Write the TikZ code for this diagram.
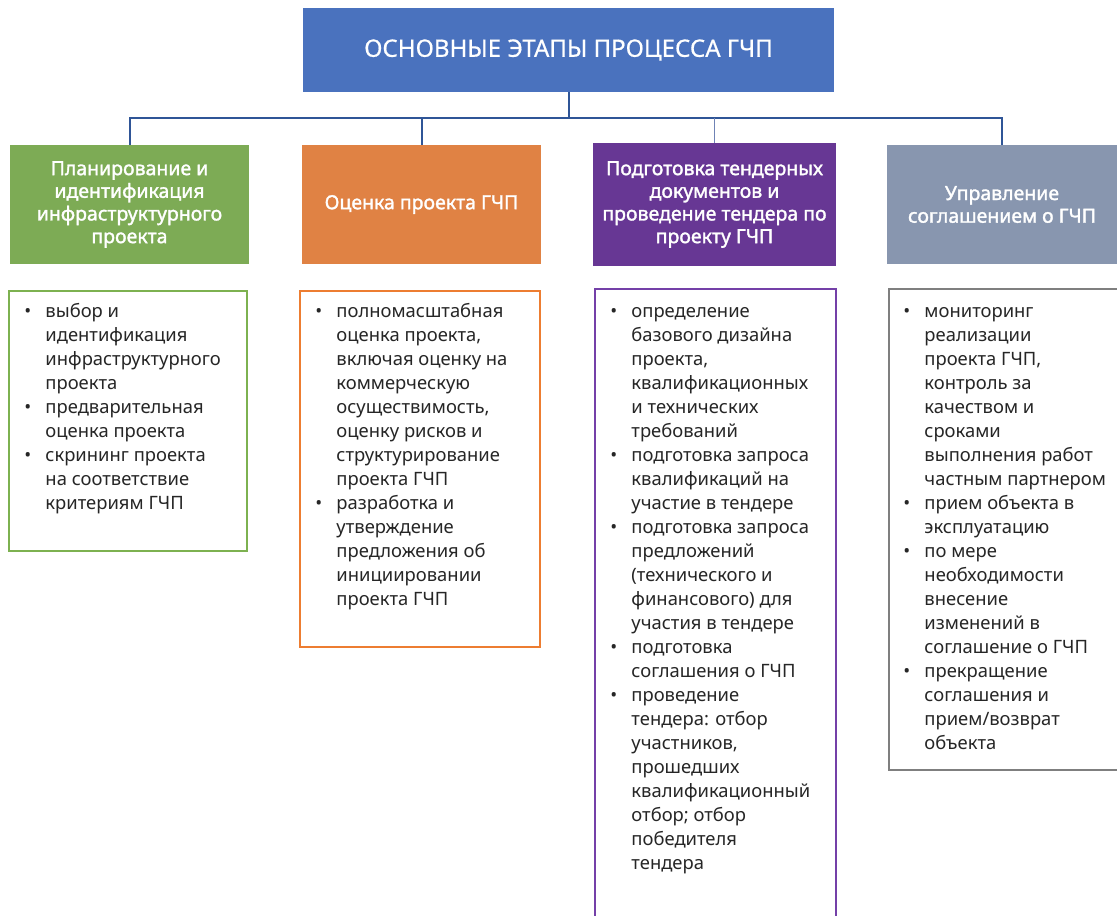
\documentclass[tikz,border=0pt]{standalone}
\usepackage{fontspec}
\setmainfont{Noto Sans}
\newfontfamily\hdrfont[FakeBold=1.6]{Noto Sans}
\newfontfamily\ttlfont[FakeBold=0.6]{Noto Sans}
\definecolor{cTop}{HTML}{4A72BE}
\definecolor{cLine}{HTML}{2F5597}
\definecolor{cLineL}{HTML}{6F83B5}
\definecolor{cGreen}{HTML}{7DAB55}
\definecolor{cGreenB}{HTML}{7DB150}
\definecolor{cOrange}{HTML}{E08244}
\definecolor{cOrangeB}{HTML}{ED7D31}
\definecolor{cPurple}{HTML}{673794}
\definecolor{cPurpleB}{HTML}{7440A8}
\definecolor{cGray}{HTML}{8896AF}
\definecolor{cGrayB}{HTML}{7F7F7F}
\newcommand\bl{\makebox[15.75pt][l]{•}}
\tikzset{
  hdr/.style={inner sep=0pt, text=white, font=\hdrfont\fontsize{14.6}{17}\selectfont, align=center},
  titlebox/.style={inner sep=0pt, fill=cTop, text=white, font=\ttlfont\fontsize{18}{22}\selectfont},
  lst/.style={draw, line width=1.2pt, inner sep=0pt, fill=white},
  txt/.style={anchor=north west, inner sep=0pt, text=black!85, font=\fontsize{13.8}{18}\selectfont, align=left},
  conn/.style={draw=cLine, line width=1.5pt},
}
\begin{document}
\begin{tikzpicture}[x=0.75pt,y=-0.75pt]
\useasboundingbox[fill=white] (0,0) rectangle (1117,915);
% title
\node[titlebox, minimum width=398.25pt, minimum height=63pt] (top) at (568.5,50) {ОСНОВНЫЕ ЭТАПЫ ПРОЦЕССА ГЧП};
% headers
\node[hdr, fill=cGreen, minimum width=179.25pt, minimum height=89.25pt] (h1) at (129.5,204.5) {Планирование и\\идентификация\\инфраструктурного\\проекта};
\node[hdr, fill=cOrange, minimum width=179.25pt, minimum height=89.25pt] (h2) at (421.5,204.5) {Оценка проекта ГЧП};
\node[hdr, fill=cPurple, minimum width=182.25pt, minimum height=92.25pt] (h3) at (714.5,204.5) {Подготовка тендерных\\документов и\\проведение тендера по\\проекту ГЧП};
\node[hdr, fill=cGray, minimum width=172.5pt, minimum height=89.25pt] (h4) at (1002,204.5) {Управление\\соглашением о ГЧП};
% connectors
\coordinate (bus) at (568,118);
\draw[conn] (top.south) -- (top.south |- bus);
\draw[conn] (h1.north) -- (h1.north |- bus) -- (h4.north |- bus) -- (h4.north);
\draw[conn] (h2.north) -- (h2.north |- bus);
\draw[draw=cLineL, line width=0.8pt] (h3.north) -- (h3.north |- bus);
% list boxes
\node[lst, draw=cGreenB, minimum width=178.5pt, minimum height=195pt] (b1) at (128,421) {};
\node[lst, draw=cOrangeB, minimum width=180pt, minimum height=267pt] (b2) at (420,469) {};
\node[lst, draw=cPurpleB, minimum width=180.75pt, minimum height=477pt] (b3) at (715.5,607) {};
\node[lst, draw=cGrayB, minimum width=177pt, minimum height=360.75pt] (b4) at (1007,529.5) {};
% list texts
\node[txt] (t1) at ([shift={(16,10)}]b1.north west) {\begin{tabular}{@{}l@{}l@{}}
\bl & выбор и\\
 & идентификация\\
 & инфраструктурного\\
 & проекта\\
\bl & предварительная\\
 & оценка проекта\\
\bl & скрининг проекта\\
 & на соответствие\\
 & критериям ГЧП
\end{tabular}};
\node[txt] (t2) at ([shift={(16,10)}]b2.north west) {\begin{tabular}{@{}l@{}l@{}}
\bl & полномасштабная\\
 & оценка проекта,\\
 & включая оценку на\\
 & коммерческую\\
 & осуществимость,\\
 & оценку рисков и\\
 & структурирование\\
 & проекта ГЧП\\
\bl & разработка и\\
 & утверждение\\
 & предложения об\\
 & инициировании\\
 & проекта ГЧП
\end{tabular}};
\node[txt] (t3) at ([shift={(16,12)}]b3.north west) {\begin{tabular}{@{}l@{}l@{}}
\bl & определение\\
 & базового дизайна\\
 & проекта,\\
 & квалификационных\\
 & и технических\\
 & требований\\
\bl & подготовка запроса\\
 & квалификаций на\\
 & участие в тендере\\
\bl & подготовка запроса\\
 & предложений\\
 & (технического и\\
 & финансового) для\\
 & участия в тендере\\
\bl & подготовка\\
 & соглашения о ГЧП\\
\bl & проведение\\
 & тендера: отбор\\
 & участников,\\
 & прошедших\\
 & квалификационный\\
 & отбор; отбор\\
 & победителя\\
 & тендера
\end{tabular}};
\node[txt] (t4) at ([shift={(15,12)}]b4.north west) {\begin{tabular}{@{}l@{}l@{}}
\bl & мониторинг\\
 & реализации\\
 & проекта ГЧП,\\
 & контроль за\\
 & качеством и\\
 & сроками\\
 & выполнения работ\\
 & частным партнером\\
\bl & прием объекта в\\
 & эксплуатацию\\
\bl & по мере\\
 & необходимости\\
 & внесение\\
 & изменений в\\
 & соглашение о ГЧП\\
\bl & прекращение\\
 & соглашения и\\
 & прием/возврат\\
 & объекта
\end{tabular}};
\end{tikzpicture}
\end{document}
